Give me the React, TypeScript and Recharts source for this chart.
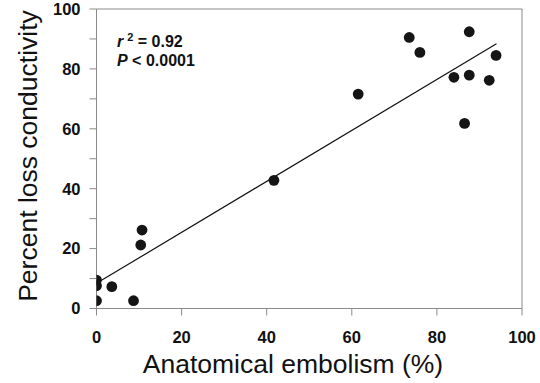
import { ComposedChart, Scatter, XAxis, YAxis, ReferenceLine, Label } from "recharts";

// anatomical embolism (%) vs percent loss conductivity
const embolism = [0, 0, 0, 3.6, 8.7, 10.4, 10.7, 41.7, 61.5, 73.5, 76.0, 84.0, 86.5, 87.6, 87.6, 92.3, 93.9];
const plc = [9.5, 7.6, 2.6, 7.3, 2.6, 21.2, 26.2, 42.8, 71.6, 90.5, 85.5, 77.2, 61.8, 77.9, 92.4, 76.2, 84.5];

// fitted regression line
const fitIntercept = 8.4;
const fitSlope = 0.851;
const fitRange = [0, 94];

const xTicks = [0, 20, 40, 60, 80, 100];
const yTicks = [0, 10, 20, 30, 40, 50, 60, 70, 80, 90, 100];

const FONT = "'Liberation Sans', Arial, sans-serif";
const AXIS = "#8a8a8a";

export default function App() {
    const points = embolism.map((x, i) => ({ x, y: plc[i] }));
    const fit = fitRange.map(x => ({ x, y: fitIntercept + fitSlope * x }));

    return (
        <div style={{ position: "absolute", left: 0, top: 0, width: 540, height: 383, background: "#fff", fontFamily: FONT }}>
            <ComposedChart
                width={540}
                height={383}
                margin={{ top: 9, right: 18, bottom: 0, left: 0 }}
            >
                <XAxis
                    type="number"
                    dataKey="x"
                    domain={[0, 100]}
                    ticks={xTicks}
                    allowDataOverflow
                    height={74.5}
                    stroke={AXIS}
                    tickSize={7}
                    tickMargin={16}
                    tick={{ fill: "#111", fontSize: 16.5, fontWeight: "bold", fontFamily: FONT }}
                >
                    <Label
                        content={() => (
                            <text
                                x={293}
                                y={373}
                                textAnchor="middle"
                                fontSize={26.5}
                                fontFamily={FONT}
                                fill="#111"
                            >
                                Anatomical embolism (%)
                            </text>
                        )}
                    />
                </XAxis>
                <YAxis
                    type="number"
                    dataKey="y"
                    domain={[0, 100]}
                    ticks={yTicks}
                    interval={0}
                    allowDataOverflow
                    width={96.5}
                    stroke={AXIS}
                    tickSize={7}
                    tickMargin={9}
                    tickFormatter={(v: number) => (v % 20 === 0 ? String(v) : "")}
                    tick={{ fill: "#111", fontSize: 16.5, fontWeight: "bold", fontFamily: FONT }}
                >
                    <Label
                        content={() => (
                            <text
                                x={28}
                                y={156}
                                transform="rotate(-90, 28, 156)"
                                textAnchor="middle"
                                dominantBaseline="central"
                                fontSize={26.5}
                                fontFamily={FONT}
                                fill="#111"
                            >
                                Percent loss conductivity
                            </text>
                        )}
                    />
                </YAxis>
                <ReferenceLine y={100} stroke={AXIS} />
                <ReferenceLine x={100} stroke={AXIS} />
                <Scatter
                    data={fit}
                    line={{ stroke: "#111", strokeWidth: 1.2 }}
                    shape={() => <g />}
                    isAnimationActive={false}
                />
                <Scatter
                    data={points}
                    fill="#151515"
                    shape={(p: any) => <circle cx={p.cx} cy={p.cy} r={5.4} fill="#151515" />}
                    isAnimationActive={false}
                />
            </ComposedChart>
            <svg width={540} height={383} style={{ position: "absolute", left: 0, top: 0, pointerEvents: "none" }}>
                <text x={117} y={47} fontSize={16} fontWeight="bold" fontFamily={FONT} fill="#111">
                    <tspan fontStyle="italic">r</tspan>
                    <tspan dx={4} dy={-6} fontSize={11}>2</tspan>
                    <tspan dy={6}> = 0.92</tspan>
                </text>
                <text x={117} y={65.5} fontSize={16} fontWeight="bold" fontFamily={FONT} fill="#111">
                    <tspan fontStyle="italic">P</tspan>
                    <tspan> &lt; 0.0001</tspan>
                </text>
            </svg>
        </div>
    );
}
